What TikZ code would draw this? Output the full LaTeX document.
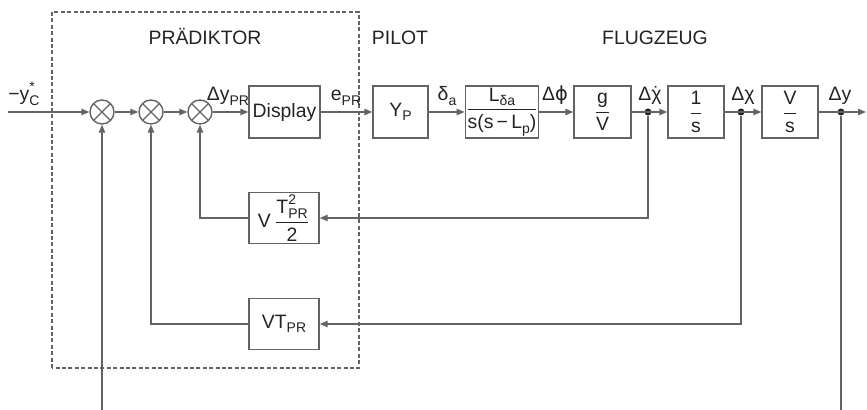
\documentclass[tikz,border=0pt]{standalone}
\usepackage{amsmath}
\usepackage{fontspec}
\setmainfont{Liberation Sans}
\newfontfamily\dvfont{DejaVu Sans}
\usetikzlibrary{arrows.meta,positioning,calc}
\definecolor{lgray}{RGB}{100,100,100}
\definecolor{tgray}{RGB}{35,35,35}
\newcommand\lo[1]{\raisebox{-0.45ex}{\scriptsize #1}}
\newcommand\hi[1]{\raisebox{0.9ex}{\scriptsize #1}}
\newcommand\dchi{\ooalign{χ\cr\hidewidth˙\hidewidth\cr}}
\tikzset{
  blk/.style={draw=lgray, line width=0.7pt, minimum height=26pt, inner sep=0pt, align=center, text=tgray},
  sumj/.style={draw=lgray, line width=0.7pt, circle, minimum size=12pt, inner sep=0pt,
    path picture={\draw[lgray, line width=0.6pt]
      (path picture bounding box.north west) -- (path picture bounding box.south east)
      (path picture bounding box.north east) -- (path picture bounding box.south west);}},
  dotj/.style={circle, fill=tgray, inner sep=0pt, minimum size=3.5pt},
  sig/.style={text=tgray, inner sep=0pt, anchor=base},
  ttl/.style={text=tgray, inner sep=0pt, anchor=base},
  arr/.style={-{Triangle[length=4pt,width=3.2pt]}, lgray, line width=0.7pt},
  ln/.style={lgray, line width=0.7pt},
}
\begin{document}
\begin{tikzpicture}[x=0.5pt,y=0.5pt,font=\fontsize{9.7}{11}\selectfont]
  \useasboundingbox (0,0) rectangle (867,410);
  % Praediktor frame and titles
  \draw[lgray, line width=0.6pt, dash pattern=on 2pt off 1.2pt] (52,42) rectangle (359,398);
  \node[ttl] (tpred) at (205,365) {PRÄDIKTOR};
  \node[ttl] (tpilot) at (400,365) {PILOT};
  \node[ttl] (tflug) at (655,365) {FLUGZEUG};
  % forward path
  \coordinate (in) at (8,298);
  \foreach \i/\x in {1/102,2/151,3/200}
    \node[sumj] (s\i) at (\x,298) {};
  \node[blk, minimum width=35.5pt] (disp) at (284.5,298) {Display};
  \node[blk, minimum width=27.5pt] (yp) at (400.5,298) {Y\lo{P}};
  \node[blk, minimum width=35pt] (ld) at (502,298) {$\dfrac{\text{L\lo{δa}}}{\text{s(s\,−\,L\lo{p})}}$};
  \node[blk, minimum width=28.5pt] (gv) at (602.5,298) {$\dfrac{\text{g}}{\text{V}}$};
  \node[blk, minimum width=28pt] (int) at (696,298) {$\dfrac{\text{1}}{\text{s}}$};
  \node[blk, minimum width=28pt] (vs) at (790,298) {$\dfrac{\text{V}}{\text{s}}$};
  \node[dotj] (d1) at (648,298) {};
  \node[dotj] (d2) at (741,298) {};
  \node[dotj] (d3) at (841,298) {};
  \coordinate (out) at (866,298);
  \draw[arr] (in) -- (s1);
  \draw[arr] (s1) -- (s2);
  \draw[arr] (s2) -- (s3);
  \draw[arr] (s3) -- (disp);
  \draw[arr] (disp) -- (yp);
  \draw[arr] (yp) -- (ld);
  \draw[arr] (ld) -- (gv);
  \draw[arr] (gv) -- (int);
  \draw[arr] (int) -- (vs);
  \draw[arr] (vs) -- (out);
  % feedback blocks
  \node[blk, minimum width=35pt, minimum height=25.5pt] (fb1) at (284,192) {V\,$\dfrac{\text{T\rlap{\hi{2}}\lo{PR}}}{\text{2}}$};
  \node[blk, minimum width=35pt, minimum height=25.5pt] (fb2) at (284,86) {VT\lo{PR}};
  \draw[arr] (d1) |- (fb1);
  \draw[arr] (fb1) -| (s3);
  \draw[arr] (d2) |- (fb2);
  \draw[arr] (fb2) -| (s2);
  \coordinate (yc) at (102,0);
  \coordinate (yend) at (841,0);
  \draw[arr] (yc) -- (s1);
  \draw[ln] (d3) -- (yend);
  % signal labels
  \node[sig, anchor=base west] (lyc) at (8,309) {−y\rlap{\hi{*}}\lo{C}};
  \node[sig] (ldy) at (228,309) {Δy\lo{PR}};
  \node[sig] (lepr) at (346,309) {e\lo{PR}};
  \node[sig] (lda) at (447,309) {δ\lo{a}};
  \node[sig] (lphi) at (555,309) {Δ{\dvfont ϕ}};
  \node[sig] (lchid) at (650,309) {Δ\dchi};
  \node[sig] (lchi) at (743,309) {Δχ};
  \node[sig] (ly) at (840,309) {Δy};
\end{tikzpicture}
\end{document}
